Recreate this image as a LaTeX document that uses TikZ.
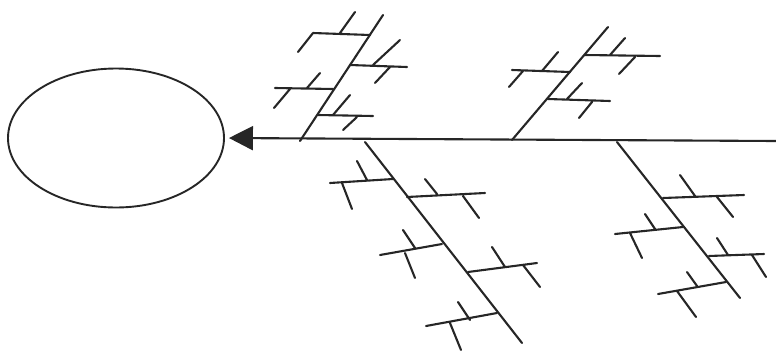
\documentclass[tikz,border=0pt]{standalone}
\usetikzlibrary{arrows.meta,shapes.geometric}
\begin{document}
\begin{tikzpicture}[x=1pt,y=-1pt,
  bone/.style={line width=2.1pt,line cap=round,black!85},
  headshape/.style={ellipse,draw=black!85,line width=1.9pt,minimum width=216pt,minimum height=139pt,inner sep=0pt}]
\useasboundingbox (0,0) rectangle (776,354);
\node[headshape] (head) at (116,138) {};
\coordinate (tail) at (776,141);
\draw[bone,line cap=butt,-{Triangle[length=24pt,width=24pt]},shorten >=4pt] (tail) -- (head.east);
% bone 1 (upper left)
\draw[bone] (300,141) -- (383,15);
\draw[bone] (313,33) -- (370,35) (340,33) -- (355,12) (313,33) -- (298,52);
\draw[bone] (350,65) -- (407,67) (373,65) -- (400,40) (390,67) -- (375,83);
\draw[bone] (275,88) -- (333,89) (307,88) -- (320,73) (290,89) -- (274,108);
\draw[bone] (318,115) -- (373,116) (333,115) -- (350,95) (357,117) -- (343,130);
% bone 2 (upper right)
\draw[bone] (512,140) -- (608,27);
\draw[bone] (585,55) -- (660,56) (610,55) -- (625,38) (635,57) -- (619,74);
\draw[bone] (512,70) -- (570,72) (542,71) -- (558,52) (523,71) -- (509,87);
\draw[bone] (548,99) -- (610,101) (567,99) -- (582,83) (592,102) -- (579,118);
% bone 3 (lower left)
\draw[bone] (365,142) -- (522,343);
\draw[bone] (330,183) -- (393,179) (357,161) -- (367,180) (342,183) -- (352,209);
\draw[bone] (407,197) -- (485,193) (425,179) -- (437,194) (463,196) -- (479,218);
\draw[bone] (380,255) -- (442,244) (403,230) -- (415,248) (405,253) -- (415,278);
\draw[bone] (468,272) -- (537,263) (492,247) -- (505,267) (523,265) -- (540,287);
\draw[bone] (426,326) -- (497,313) (458,302) -- (470,320) (450,323) -- (461,350);
% bone 4 (lower right)
\draw[bone] (617,142) -- (740,298);
\draw[bone] (663,198) -- (744,195) (680,175) -- (695,196) (717,197) -- (733,217);
\draw[bone] (615,234) -- (683,227) (645,214) -- (655,229) (630,233) -- (642,258);
\draw[bone] (709,256) -- (764,254) (717,238) -- (728,255) (752,255) -- (766,277);
\draw[bone] (658,294) -- (726,282) (687,272) -- (697,286) (677,291) -- (696,317);
\end{tikzpicture}
\end{document}
